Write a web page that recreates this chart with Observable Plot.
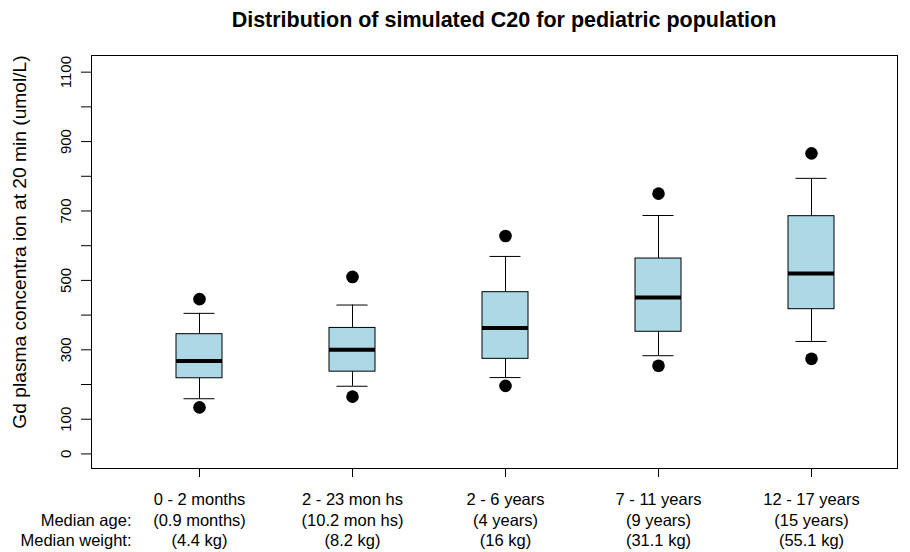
<!DOCTYPE html>
<html>
<head>
<meta charset="utf-8">
<script src="https://cdn.jsdelivr.net/npm/d3@7"></script>
<script src="https://cdn.jsdelivr.net/npm/@observablehq/plot@0.6"></script>
<style>
  body { margin: 0; background: #fff; }
  #chart { width: 910px; height: 552px; position: relative; font-family: "Liberation Sans", Arial, sans-serif; }
  #title { box-sizing: border-box; height: 40px; padding: 10px 0 0 98px; text-align: center;
           font-weight: bold; font-size: 21.5px; line-height: 21.5px; color: #000; }
  svg { display: block; }
</style>
</head>
<body>
<div id="chart">
  <div id="title">Distribution of simulated C20 for pediatric population</div>
</div>
<script>
// Age groups and their descriptors
const groups = ["0 - 2 months", "2 - 23 mon hs", "2 - 6 years", "7 - 11 years", "12 - 17 years"];
const medianAge = ["(0.9 months)", "(10.2 mon hs)", "(4 years)", "(9 years)", "(15 years)"];
const medianWeight = ["(4.4 kg)", "(8.2 kg)", "(16 kg)", "(31.1 kg)", "(55.1 kg)"];
const rowLabels = ["Median age:", "Median weight:"];

// Simulated C20 summary statistics (umol/L) per age group
const pLow = [134, 165, 196, 254, 274];
const whiskerLow = [159, 195, 220, 283, 324];
const q1 = [218, 237, 274, 352, 417];
const median = [268, 300, 363, 451, 520];
const q3 = [345, 363, 466, 563, 685];
const whiskerHigh = [405, 429, 569, 687, 794];
const pHigh = [446, 510, 628, 750, 866];

// Y axis ticks and which of them carry a label
const yTicks = d3.range(0, 1101, 100);
const yTickLabels = [0, 100, 300, 500, 700, 900, 1100];
const yTitle = "Gd plasma concentra ion at 20 min (umol/L)";

const rows = groups.map((g, i) => ({
  g, lo: pLow[i], wl: whiskerLow[i], q1: q1[i], med: median[i],
  q3: q3[i], wh: whiskerHigh[i], hi: pHigh[i]
}));

const labelSize = 16.5;
const labelLead = 1.25;

const chart = Plot.plot({
  width: 910,
  height: 512,
  marginTop: 15,
  marginBottom: 84,
  marginLeft: 91,
  marginRight: 13,
  style: { fontFamily: "'Liberation Sans', Arial, sans-serif", fontSize: "16px", color: "#000", background: "#fff" },
  x: { type: "band", domain: groups, paddingInner: 0.7, paddingOuter: 0.4755, align: 0.5755 },
  y: { domain: [-42, 1148] },
  marks: [
    Plot.frame({ stroke: "#000" }),
    Plot.axisY({
      ticks: yTicks, tickSize: 10, tickPadding: 11, tickRotate: -90, fontSize: 15,
      tickFormat: d => yTickLabels.includes(d) ? String(d) : "", label: null
    }),
    Plot.axisX({
      tickSize: 9, tickPadding: 13, lineHeight: labelLead, fontSize: labelSize, label: null,
      tickFormat: d => { const i = groups.indexOf(d); return `${d}\n${medianAge[i]}\n${medianWeight[i]}`; }
    }),
    Plot.text([yTitle], { frameAnchor: "left", textAnchor: "middle", rotate: -90, dx: -72, dy: -20, fontSize: 19.2 }),
    Plot.text([rowLabels.join("\n")], {
      frameAnchor: "bottom-left", textAnchor: "end", lineAnchor: "top",
      lineHeight: labelLead, fontSize: labelSize,
      dx: 40, dy: 9 + 13 + labelSize * labelLead
    }),
    Plot.ruleX(rows, { x: "g", y1: "wl", y2: "q1", stroke: "#000" }),
    Plot.ruleX(rows, { x: "g", y1: "q3", y2: "wh", stroke: "#000" }),
    Plot.tickY(rows, { x: "g", y: "wl", insetLeft: 7.5, insetRight: 7.5, stroke: "#000" }),
    Plot.tickY(rows, { x: "g", y: "wh", insetLeft: 7.5, insetRight: 7.5, stroke: "#000" }),
    Plot.barY(rows, { x: "g", y1: "q1", y2: "q3", fill: "#ADD8E6", stroke: "#000", strokeWidth: 1 }),
    Plot.tickY(rows, { x: "g", y: "med", stroke: "#000", strokeWidth: 4 }),
    Plot.dot(rows, { x: "g", y: "lo", r: 6.3, fill: "#000", stroke: null }),
    Plot.dot(rows, { x: "g", y: "hi", r: 6.3, fill: "#000", stroke: null })
  ]
});

document.getElementById("chart").appendChild(chart);
</script>
</body>
</html>
